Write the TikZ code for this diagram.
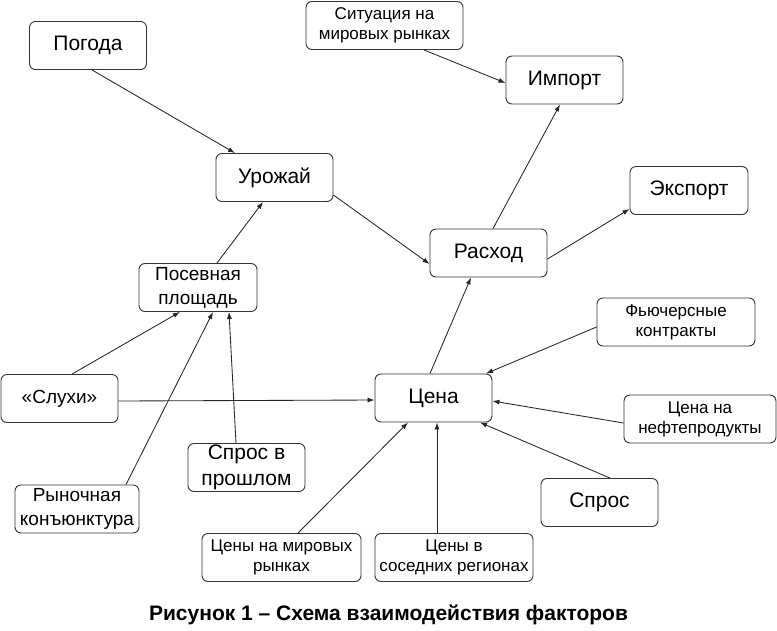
\documentclass[tikz,border=0pt]{standalone}
\usepackage{fontspec}
\setmainfont{Liberation Sans}
\usetikzlibrary{arrows.meta}
\tikzset{
  box/.style={draw=black!80, line width=0.9pt, rounded corners=6pt, fill=white,
    align=center, inner sep=0pt, minimum width=#1, minimum height=48},
  box/.default=117,
  big/.style={font=\fontsize{21}{26}\selectfont},
  mid/.style={font=\fontsize{19}{24}\selectfont},
  sml/.style={font=\fontsize{17}{20}\selectfont},
  arr/.style={draw=black!85, line width=0.85pt, -{Latex[length=7pt,width=5pt]}},
}
\begin{document}
\begin{tikzpicture}[x=1pt,y=-1pt]
\useasboundingbox[fill=white] (0,0) rectangle (777,630);
% nodes
\node[box, big] (pogoda) at (88,45.5) {Погода};
\node[box, big] (urozh) at (274.5,177.5) {Урожай};
\node[box=118, mid] (posev) at (198,287.5) {Посевная\\площадь};
\node[box=157, sml] (situ) at (384.5,25.5) {Ситуация на\\мировых рынках};
\node[box, big] (import) at (564.5,80) {Импорт};
\node[box=118, big] (export) at (689,190.5) {Экспорт};
\node[box, big] (rashod) at (488.5,253) {Расход};
\node[box=158, sml] (fut) at (676,322) {Фьючерсные\\контракты};
\node[box, big] (cena) at (433.5,398) {Цена};
\node[box=152, sml] (neft) at (700,419) {Цена на\\нефтепродукты};
\node[box, big] (spros) at (599.5,502.5) {Спрос};
\node[box=158, sml] (sosed) at (454,557.5) {Цены в\\соседних регионах};
\node[box=159, sml] (mir) at (281.5,557.5) {Цены на мировых\\рынках};
\node[box, mid] (sluh) at (59.5,398.5) {«Слухи»};
\node[box, big] (sprpr) at (246.5,467.5) {Спрос в\\прошлом};
\node[box=124, mid, align=right, inner xsep=2pt] (rynok) at (77,509) {Рыночная\hspace*{13pt}\\конъюнктура};
\node[font=\fontsize{21}{24}\selectfont\bfseries] (cap) at (388.5,615) {Рисунок 1 – Схема взаимодействия факторов};
% connectors
\draw[arr] ([xshift=4]pogoda.south) -- ([xshift=-39.5]urozh.north);
\draw[arr] ([xshift=19]posev.north) -- ([xshift=-11.5]urozh.south);
\draw[arr] ([yshift=-17.5]urozh.east) -- ([yshift=-11]rashod.west);
\draw[arr] ([xshift=39.5]situ.south) -- ([yshift=-3]import.west);
\draw[arr] ([xshift=4.5]rashod.north) -- ([xshift=-4.5]import.south);
\draw[arr] ([yshift=-6]rashod.east) -- ([yshift=-18.5]export.west);
\draw[arr] ([xshift=-3.5]cena.north) -- ([xshift=-17.5]rashod.south);
\draw[arr] ([xshift=12.5]sluh.north) -- ([xshift=-18]posev.south);
\draw[arr] ([yshift=-2.5]sluh.east) -- ([yshift=-2]cena.west);
\draw[arr] ([xshift=49]rynok.north) -- ([xshift=15]posev.south);
\draw[arr] ([xshift=-10.5]sprpr.north) -- ([xshift=31]posev.south);
\draw[arr] ([yshift=-5]fut.west) -- ([xshift=52.5]cena.north);
\draw[arr] ([yshift=-4]neft.west) -- ([yshift=-3]cena.east);
\draw[arr] ([xshift=10.5]spros.north) -- ([xshift=46.5]cena.south);
\draw[arr] ([xshift=16.5]mir.north) -- ([xshift=-25.5]cena.south);
\draw[arr] ([xshift=-17]sosed.north) -- ([xshift=3.5]cena.south);
\end{tikzpicture}
\end{document}
